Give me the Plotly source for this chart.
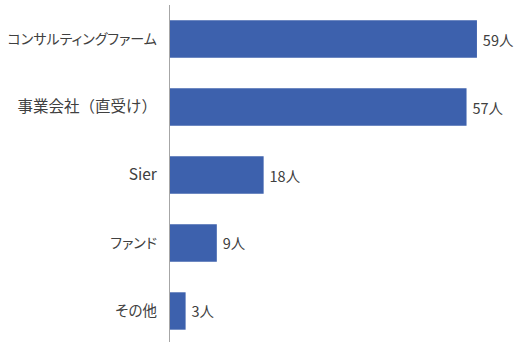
import plotly.graph_objects as go

# Respondents by engagement source
categories = ["コンサルティングファーム", "事業会社（直受け）", "Sier", "ファンド", "その他"]
counts = [59, 57, 18, 9, 3]
label_sizes = [14, 15.5, 15.5, 14, 14.5]

tick_text = [f'<span style="font-size:{s}px">{c}</span>' for c, s in zip(categories, label_sizes)]

# proportional kana spacing for the kana category labels (full-width brackets kept)
palt_js = """
document.querySelectorAll('.ytick text').forEach(function (el) {
  if (el.textContent.indexOf('事業') === -1) {
    el.style.fontFeatureSettings = '"palt"';
    el.querySelectorAll('tspan').forEach(function (t) {
      t.style.fontFeatureSettings = '"palt"';
    });
  }
});
"""

fig = go.Figure(
    go.Bar(
        y=categories,
        x=counts,
        orientation="h",
        width=0.55,
        marker=dict(color="#3d61ad", line=dict(width=0)),
        text=[f"\u2009{v}人" for v in counts],
        textposition="outside",
        textfont=dict(size=14.5, color="#404040", family="Noto Sans CJK JP"),
        cliponaxis=False,
        constraintext="none",
    )
)

fig.update_layout(
    width=517,
    height=342,
    margin=dict(l=170, r=0, t=5, b=0),
    paper_bgcolor="white",
    plot_bgcolor="white",
    font=dict(family="Noto Sans CJK JP", color="#404040"),
    showlegend=False,
    bargap=0.45,
)

fig.update_xaxes(
    range=[0, 66.7],
    visible=False,
    showgrid=False,
    zeroline=False,
    automargin=False,
)

fig.update_yaxes(
    type="category",
    categoryorder="array",
    categoryarray=categories,
    tickvals=categories,
    ticktext=tick_text,
    range=[4.456, -0.5],
    showline=True,
    linecolor="#a6a6a6",
    linewidth=1,
    showgrid=False,
    zeroline=False,
    automargin=False,
    ticks="",
    ticklabelstandoff=9,
    tickfont=dict(size=15.5, color="#404040", family="Noto Sans CJK JP"),
)

fig.write_html("out.html", post_script=palt_js)
